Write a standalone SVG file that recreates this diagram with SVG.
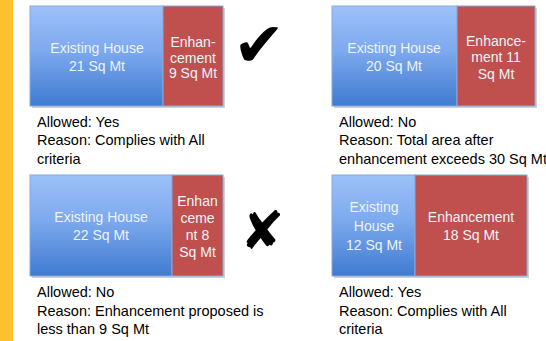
<svg xmlns="http://www.w3.org/2000/svg" width="546" height="341" viewBox="0 0 546 341">
<defs>
<linearGradient id="blueGrad" x1="0" y1="0" x2="0" y2="1">
<stop offset="0" stop-color="#9DC1F9"/>
<stop offset="0.45" stop-color="#7DA9EE"/>
<stop offset="1" stop-color="#3F7BD0"/>
</linearGradient>
</defs>
<style>
.house{fill:url(#blueGrad);stroke:#86A9DC;stroke-width:1}
.enh{fill:#C0504D;stroke:#86A9DC;stroke-width:1}
.shadow{fill:#000;opacity:0.18}
.bt{font-family:"Liberation Sans",Arial,sans-serif;font-size:14px;fill:#EEF3FB;text-anchor:middle}
.cap{font-family:"Liberation Sans",Arial,sans-serif;font-size:14.5px;fill:#000}
.mark{font-family:"DejaVu Sans",sans-serif;fill:#000}
</style>
<rect x="0" y="0" width="546" height="341" fill="#FFFFFF"/>
<rect x="0" y="0" width="13" height="341" fill="#FDC02F"/>

<g id="case1">
<rect class="shadow" x="32" y="8" width="193" height="100"/>
<rect class="house" x="30" y="6" width="133" height="100"/>
<rect class="enh" x="163" y="6" width="60" height="100"/>
<text class="bt" x="97" y="53">Existing House</text>
<text class="bt" x="97" y="70.5">21 Sq Mt</text>
<text class="bt" x="193" y="47">Enhan-</text>
<text class="bt" x="193" y="62.5">cement</text>
<text class="bt" x="193" y="78">9 Sq Mt</text>
<text class="cap" x="37" y="126.5">Allowed: Yes</text>
<text class="cap" x="37" y="145">Reason: Complies with All</text>
<text class="cap" x="37" y="163.5">criteria</text>
<text class="mark" x="233" y="65.5" font-size="62">✔</text>
</g>

<g id="case2">
<rect class="shadow" x="334" y="8" width="203" height="100"/>
<rect class="house" x="332" y="6" width="125" height="100"/>
<rect class="enh" x="457" y="6" width="78" height="100"/>
<text class="bt" x="394" y="53">Existing House</text>
<text class="bt" x="394" y="70.5">20 Sq Mt</text>
<text class="bt" x="496" y="45.5">Enhance-</text>
<text class="bt" x="496" y="62">ment 11</text>
<text class="bt" x="496" y="78.5">Sq Mt</text>
<text class="cap" x="339" y="126.5">Allowed: No</text>
<text class="cap" x="339" y="145">Reason: Total area after</text>
<text class="cap" x="339" y="163.5">enhancement exceeds 30 Sq Mt</text>
</g>

<g id="case3">
<rect class="shadow" x="32" y="177" width="193" height="101"/>
<rect class="house" x="30" y="175" width="142" height="101"/>
<rect class="enh" x="172" y="175" width="51" height="101"/>
<text class="bt" x="101" y="222">Existing House</text>
<text class="bt" x="101" y="240">22 Sq Mt</text>
<text class="bt" x="197.5" y="206">Enhan</text>
<text class="bt" x="197.5" y="223">ceme</text>
<text class="bt" x="197.5" y="240">nt 8</text>
<text class="bt" x="197.5" y="257">Sq Mt</text>
<text class="cap" x="37" y="297">Allowed: No</text>
<text class="cap" x="37" y="316">Reason: Enhancement proposed is</text>
<text class="cap" x="37" y="334">less than 9 Sq Mt</text>
<text class="mark" x="240" y="249" font-size="53">✘</text>
</g>

<g id="case4">
<rect class="shadow" x="334" y="177" width="195" height="101"/>
<rect class="house" x="332" y="175" width="83" height="101"/>
<rect class="enh" x="415" y="175" width="112" height="101"/>
<text class="bt" x="374" y="212">Existing</text>
<text class="bt" x="374" y="231">House</text>
<text class="bt" x="374" y="250">12 Sq Mt</text>
<text class="bt" x="471" y="222">Enhancement</text>
<text class="bt" x="471" y="240">18 Sq Mt</text>
<text class="cap" x="339" y="297">Allowed: Yes</text>
<text class="cap" x="339" y="316">Reason: Complies with All</text>
<text class="cap" x="339" y="334">criteria</text>
</g>

<g id="connectors"></g>
</svg>
